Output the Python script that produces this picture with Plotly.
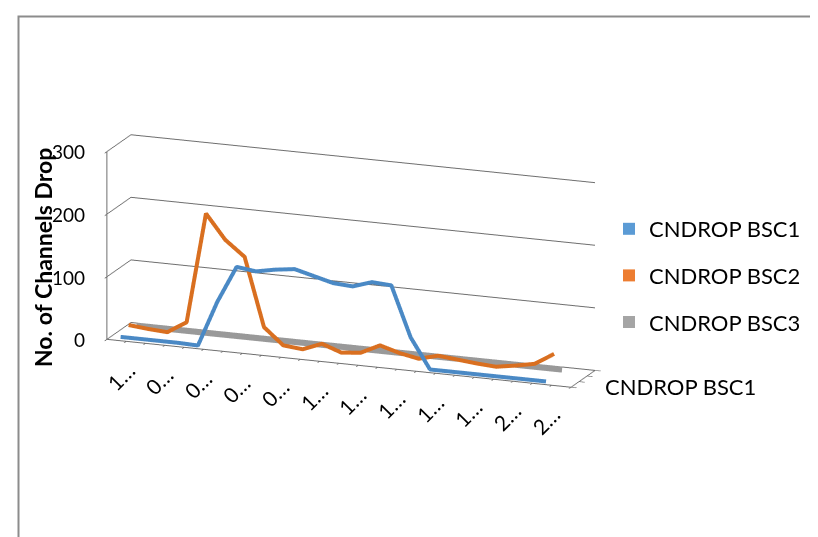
import plotly.graph_objects as go

# ---- data ----
series_names = ["CNDROP BSC1", "CNDROP BSC2", "CNDROP BSC3"]
bsc1 = [1, 1, 1, 1, 0, 73, 132, 128, 134, 138, 130, 122, 120, 130, 128, 48, 0, 0, 0, 0, 0, 0, 0, None]
bsc2 = [11, 8, 6, 25, 202, 163, 139, 30, 4, 1, 13, 2, 5, 20, 11, 5, 13, 10, 7, 5, 10, 16, 35, None]
bsc3 = [1, 1, 1, 1, 1, 1, 1, 1, 1, 1, 1, 1, 1, 1, 1, 1, 1, 1, 1, 1, 1, 1, 1, None]
tick_labels = ["1…", "0…", "0…", "0…", "0…", "1…", "1…", "1…", "1…", "1…", "2…", "2…"]
z_ticks = [0, 100, 200, 300]
depth_label = "CNDROP BSC1"
y_title = "No. of Channels Drop"

n_cat = len(bsc1)
cats = list(range(n_cat))
label_pos = cats[::2]

line_colors = ["#4a89c5", "#d96f20", "#999999"]
legend_colors = ["#5B9BD5", "#ED7D31", "#A5A5A5"]
line_widths = [8, 8, 12]
slots = [0.5, 1.5, 2.5]

FONT = "Lato"
GRID = "#6e6e6e"

fig = go.Figure()
for vals, col, w, s in zip([bsc1, bsc2, bsc3], line_colors, line_widths, slots):
    fig.add_trace(go.Scatter3d(
        x=cats, y=[s] * n_cat, z=vals, mode="lines",
        line=dict(color=col, width=w), showlegend=False, hoverinfo="skip"))

for i, (name, col) in enumerate(zip(series_names, legend_colors)):
    fig.add_trace(go.Scatter(
        x=[None], y=[None], mode="markers", name=name, legendgroup=name,
        marker=dict(symbol="square", size=12, color=col)))

annots = []
for pos, lab in zip(label_pos, tick_labels):
    annots.append(dict(x=pos, y=0, z=0, text=lab, textangle=-45, showarrow=False,
                       yshift=-36, xshift=4, font=dict(family=FONT, size=21, color="black")))
for v in z_ticks:
    annots.append(dict(x=-0.5, y=0, z=v, text=str(v), showarrow=False,
                       xanchor="right", xshift=-20, font=dict(family=FONT, size=19, color="black")))
annots.append(dict(x=n_cat - 0.5, y=0.5, z=0, text=depth_label, showarrow=False,
                   xanchor="left", xshift=28, yshift=-2, font=dict(family=FONT, size=22, color="black")))

axis_common = dict(showbackground=False, showspikes=False, zeroline=False,
                   showline=True, linecolor=GRID, linewidth=2,
                   ticks="outside", ticklen=6, tickcolor=GRID, tickwidth=2,
                   showticklabels=False, title=dict(text=""))

r = 2.68
sc = 0.855
fig.update_layout(
    width=818, height=537,
    margin=dict(l=0, r=0, t=0, b=0),
    paper_bgcolor="white", plot_bgcolor="white",
    xaxis=dict(visible=False), yaxis=dict(visible=False),
    scene=dict(
        domain=dict(x=[0.044, 0.794], y=[0.1034, 0.9534]),
        xaxis=dict(range=[-0.5, n_cat - 0.5], tickvals=[c - 0.5 for c in cats] + [n_cat - 0.5],
                   showgrid=False, **axis_common),
        yaxis=dict(range=[0, 3], tickvals=[0, 1, 2, 3], showgrid=False, **axis_common),
        zaxis=dict(range=[0, 300], tickvals=z_ticks, showgrid=True, gridcolor=GRID,
                   gridwidth=2, **axis_common),
        aspectmode="manual", aspectratio=dict(x=2.55 * sc, y=0.344 * sc, z=1.0 * sc),
        camera=dict(projection=dict(type="orthographic"),
                    eye=dict(x=0.345 * r, y=-0.899 * r, z=0.269 * r),
                    up=dict(x=0, y=0, z=1), center=dict(x=0, y=0, z=0)),
        annotations=annots,
    ),
    showlegend=True,
    legend=dict(x=601 / 818, y=1 - 200 / 537, xanchor="left", yanchor="top",
                traceorder="grouped", tracegroupgap=15, itemsizing="constant",
                font=dict(family=FONT, size=22, color="black"), bgcolor="rgba(0,0,0,0)"),
    annotations=[dict(x=35 / 818, y=1 - 250 / 537, xref="paper", yref="paper",
                      xanchor="center", yanchor="middle",
                      text="<b>" + y_title + "</b>", textangle=-90, showarrow=False,
                      font=dict(family=FONT, size=23, color="black"))],
    shapes=[dict(type="rect", xref="paper", yref="paper", x0=10.5 / 818, x1=1.02,
                 y0=-0.02, y1=1 - 8.5 / 537, line=dict(color="#8c8c8c", width=2))],
)

fig.write_html("out.html")
